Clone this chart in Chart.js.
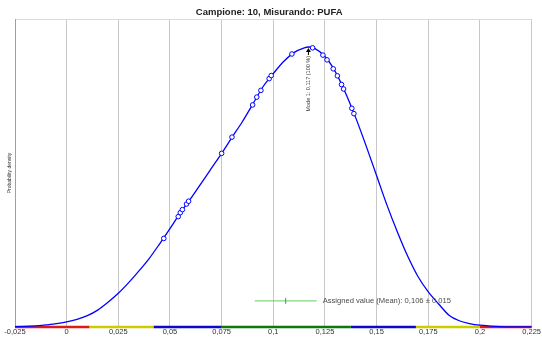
<!DOCTYPE html>
<html>
<head>
<meta charset="utf-8">
<title>Campione: 10, Misurando: PUFA</title>
<script src="https://cdn.jsdelivr.net/npm/chart.js@4.4.1/dist/chart.umd.min.js"></script>
<style>
  html, body { margin: 0; padding: 0; background: #ffffff; }
  canvas { display: block; }
</style>
</head>
<body>
<canvas id="chart" width="542" height="338"></canvas>
<script>
// ---- data -------------------------------------------------------------
const TITLE = 'Campione: 10, Misurando: PUFA';
const Y_LABEL = 'Probability density';

const TICK_VALUES = [-0.025, 0, 0.025, 0.05, 0.075, 0.1, 0.125, 0.15, 0.175, 0.2, 0.225];
const TICK_LABELS = ['-0,025', '0', '0,025', '0,05', '0,075', '0,1', '0,125', '0,15', '0,175', '0,2', '0,225'];

// kernel density of the results (relative units, mode = 1)
const CURVE_X = [-0.025, -0.02, -0.015, -0.01, -0.005, 0, 0.005, 0.01, 0.015, 0.02,
                 0.025, 0.03, 0.035, 0.04, 0.045, 0.05, 0.055, 0.06, 0.065, 0.07,
                 0.075, 0.08, 0.085, 0.09, 0.095, 0.1, 0.105, 0.11, 0.115, 0.117,
                 0.12, 0.125, 0.13, 0.135, 0.14, 0.145, 0.15, 0.155, 0.16, 0.165,
                 0.17, 0.175, 0.18, 0.185, 0.19, 0.195, 0.2, 0.205, 0.21, 0.215,
                 0.22, 0.225];
const CURVE_Y = [0.001, 0.002, 0.004, 0.007, 0.012, 0.018, 0.027, 0.040, 0.060, 0.088,
                 0.120, 0.158, 0.200, 0.245, 0.297, 0.351, 0.407, 0.458, 0.512, 0.566,
                 0.620, 0.677, 0.733, 0.795, 0.858, 0.905, 0.948, 0.980, 0.997, 1.000,
                 0.995, 0.966, 0.912, 0.835, 0.745, 0.645, 0.540, 0.435, 0.340, 0.253,
                 0.180, 0.125, 0.082, 0.042, 0.022, 0.012, 0.006, 0.003, 0.001, 0.000,
                 0.000, 0.000];

// laboratory results, placed on the density curve
const RESULT_X = [0.047, 0.054, 0.055, 0.056, 0.058, 0.059, 0.075, 0.080, 0.090, 0.092,
                  0.094, 0.098, 0.099, 0.109, 0.119, 0.124, 0.126, 0.129, 0.131, 0.133,
                  0.134, 0.138, 0.139];
const RESULT_Y = [0.316, 0.394, 0.408, 0.419, 0.439, 0.449, 0.620, 0.678, 0.793, 0.821,
                  0.845, 0.887, 0.898, 0.975, 0.997, 0.971, 0.954, 0.922, 0.897, 0.866,
                  0.850, 0.781, 0.762];

// score zones along the axis
const BAND_EDGES = [-0.025, 0.011, 0.042, 0.075, 0.1375, 0.169, 0.2, 0.225];
const BAND_ZONES = ['red', 'yellow', 'blue', 'green', 'blue', 'yellow', 'red'];

const MODE_VALUE = 0.117;
const MODE_SHARE = 100;
const ASSIGNED_MEAN = 0.106;
const ASSIGNED_U = 0.015;

// ---- styling ----------------------------------------------------------
const FONT = "'Liberation Sans', Arial, Helvetica, sans-serif";
const NARROW = "'Liberation Sans Narrow', 'Arial Narrow', 'Liberation Sans', sans-serif";
const ZONE_COLORS = { red: '#dd1a1a', yellow: '#cccc00', blue: '#0a0ac8', green: '#0a7a0a' };
const CURVE_COLOR = '#0000ff';
const Y_MAX = 1.1;

const fmt = v => v.toFixed(3).replace('.', ',');

const bandSets = BAND_ZONES.map((zone, i) => ({
  type: 'line',
  data: [{ x: BAND_EDGES[i], y: 0 }, { x: BAND_EDGES[i + 1], y: 0 }],
  borderColor: ZONE_COLORS[zone],
  borderWidth: 2.5,
  pointRadius: 0,
  clip: false,
  order: 5
}));

// mode arrow/label and assigned value marker
const annotations = {
  id: 'annotations',
  afterDatasetsDraw(chart) {
    const { ctx, chartArea, scales: { x, y } } = chart;
    ctx.save();

    // mode
    const mx = x.getPixelForValue(MODE_VALUE);
    const my = y.getPixelForValue(Math.max(...CURVE_Y)) + 1;
    ctx.strokeStyle = '#000';
    ctx.fillStyle = '#000';
    ctx.lineWidth = 1;
    ctx.beginPath();
    ctx.moveTo(mx, my + 1);
    ctx.lineTo(mx, my + 7);
    ctx.stroke();
    ctx.beginPath();
    ctx.moveTo(mx, my);
    ctx.lineTo(mx - 2.5, my + 4);
    ctx.lineTo(mx + 2.5, my + 4);
    ctx.closePath();
    ctx.fill();

    ctx.save();
    ctx.translate(mx, my + 8);
    ctx.rotate(-Math.PI / 2);
    ctx.font = '5.5px ' + NARROW;
    ctx.fillStyle = '#333';
    ctx.textAlign = 'right';
    ctx.textBaseline = 'middle';
    ctx.fillText('Mode 1: ' + fmt(MODE_VALUE) + ' (' + MODE_SHARE + ' %)', 0, 0);
    ctx.restore();

    // assigned value with its uncertainty
    const ay = chartArea.bottom - 26;
    const x0 = x.getPixelForValue(ASSIGNED_MEAN - ASSIGNED_U);
    const x1 = x.getPixelForValue(ASSIGNED_MEAN + ASSIGNED_U);
    const xm = x.getPixelForValue(ASSIGNED_MEAN);
    ctx.strokeStyle = '#66cc66';
    ctx.lineWidth = 1;
    ctx.beginPath();
    ctx.moveTo(x0, ay);
    ctx.lineTo(x1, ay);
    ctx.stroke();
    ctx.strokeStyle = '#3aa03a';
    ctx.beginPath();
    ctx.moveTo(xm, ay - 3);
    ctx.lineTo(xm, ay + 3);
    ctx.stroke();

    ctx.font = '7.6px ' + FONT;
    ctx.fillStyle = '#4a4a4a';
    ctx.textAlign = 'left';
    ctx.textBaseline = 'middle';
    ctx.fillText('Assigned value (Mean): ' + fmt(ASSIGNED_MEAN) + ' \u00b1 ' + fmt(ASSIGNED_U), x1 + 6, ay);

    ctx.restore();
  }
};

new Chart(document.getElementById('chart'), {
  type: 'line',
  data: {
    datasets: [
      {
        data: RESULT_X.map((v, i) => ({ x: v, y: RESULT_Y[i] })),
        showLine: false,
        pointStyle: 'circle',
        pointRadius: 2.3,
        pointBorderWidth: 1,
        pointBorderColor: CURVE_COLOR,
        pointBackgroundColor: '#ffffff',
        order: 0
      },
      {
        data: CURVE_X.map((v, i) => ({ x: v, y: CURVE_Y[i] })),
        borderColor: CURVE_COLOR,
        borderWidth: 1.3,
        pointRadius: 0,
        cubicInterpolationMode: 'monotone',
        clip: false,
        order: 1
      },
      ...bandSets
    ]
  },
  options: {
    responsive: false,
    animation: false,
    devicePixelRatio: 1,
    events: [],
    layout: { padding: { left: 6.4, right: 10, top: 0, bottom: 0.1 } },
    plugins: {
      legend: { display: false },
      tooltip: { enabled: false },
      title: {
        display: true,
        text: TITLE,
        color: '#222',
        font: { family: FONT, size: 9.5, weight: 'bold' },
        padding: { top: 6.6, bottom: 1.0 }
      }
    },
    scales: {
      x: {
        type: 'linear',
        min: TICK_VALUES[0],
        max: TICK_VALUES[TICK_VALUES.length - 1],
        afterBuildTicks: s => { s.ticks = TICK_VALUES.map(v => ({ value: v })); },
        ticks: {
          callback: (v, i) => TICK_LABELS[i],
          color: '#333',
          font: { family: FONT, size: 7.5 },
          padding: 1,
          maxRotation: 0,
          autoSkip: false
        },
        grid: { color: '#c8c8c8', lineWidth: 1, drawTicks: false },
        border: { display: false }
      },
      y: {
        min: 0,
        max: Y_MAX,
        afterBuildTicks: s => { s.ticks = [{ value: Y_MAX }]; },
        ticks: { display: false },
        grid: { color: '#dadada', drawTicks: false },
        border: { display: true, color: '#a0a0a0' },
        title: {
          display: true,
          text: Y_LABEL,
          color: '#333',
          font: { family: NARROW, size: 5 },
          padding: { top: 0, bottom: 2.6 }
        }
      }
    }
  },
  plugins: [annotations]
});
</script>
</body>
</html>
